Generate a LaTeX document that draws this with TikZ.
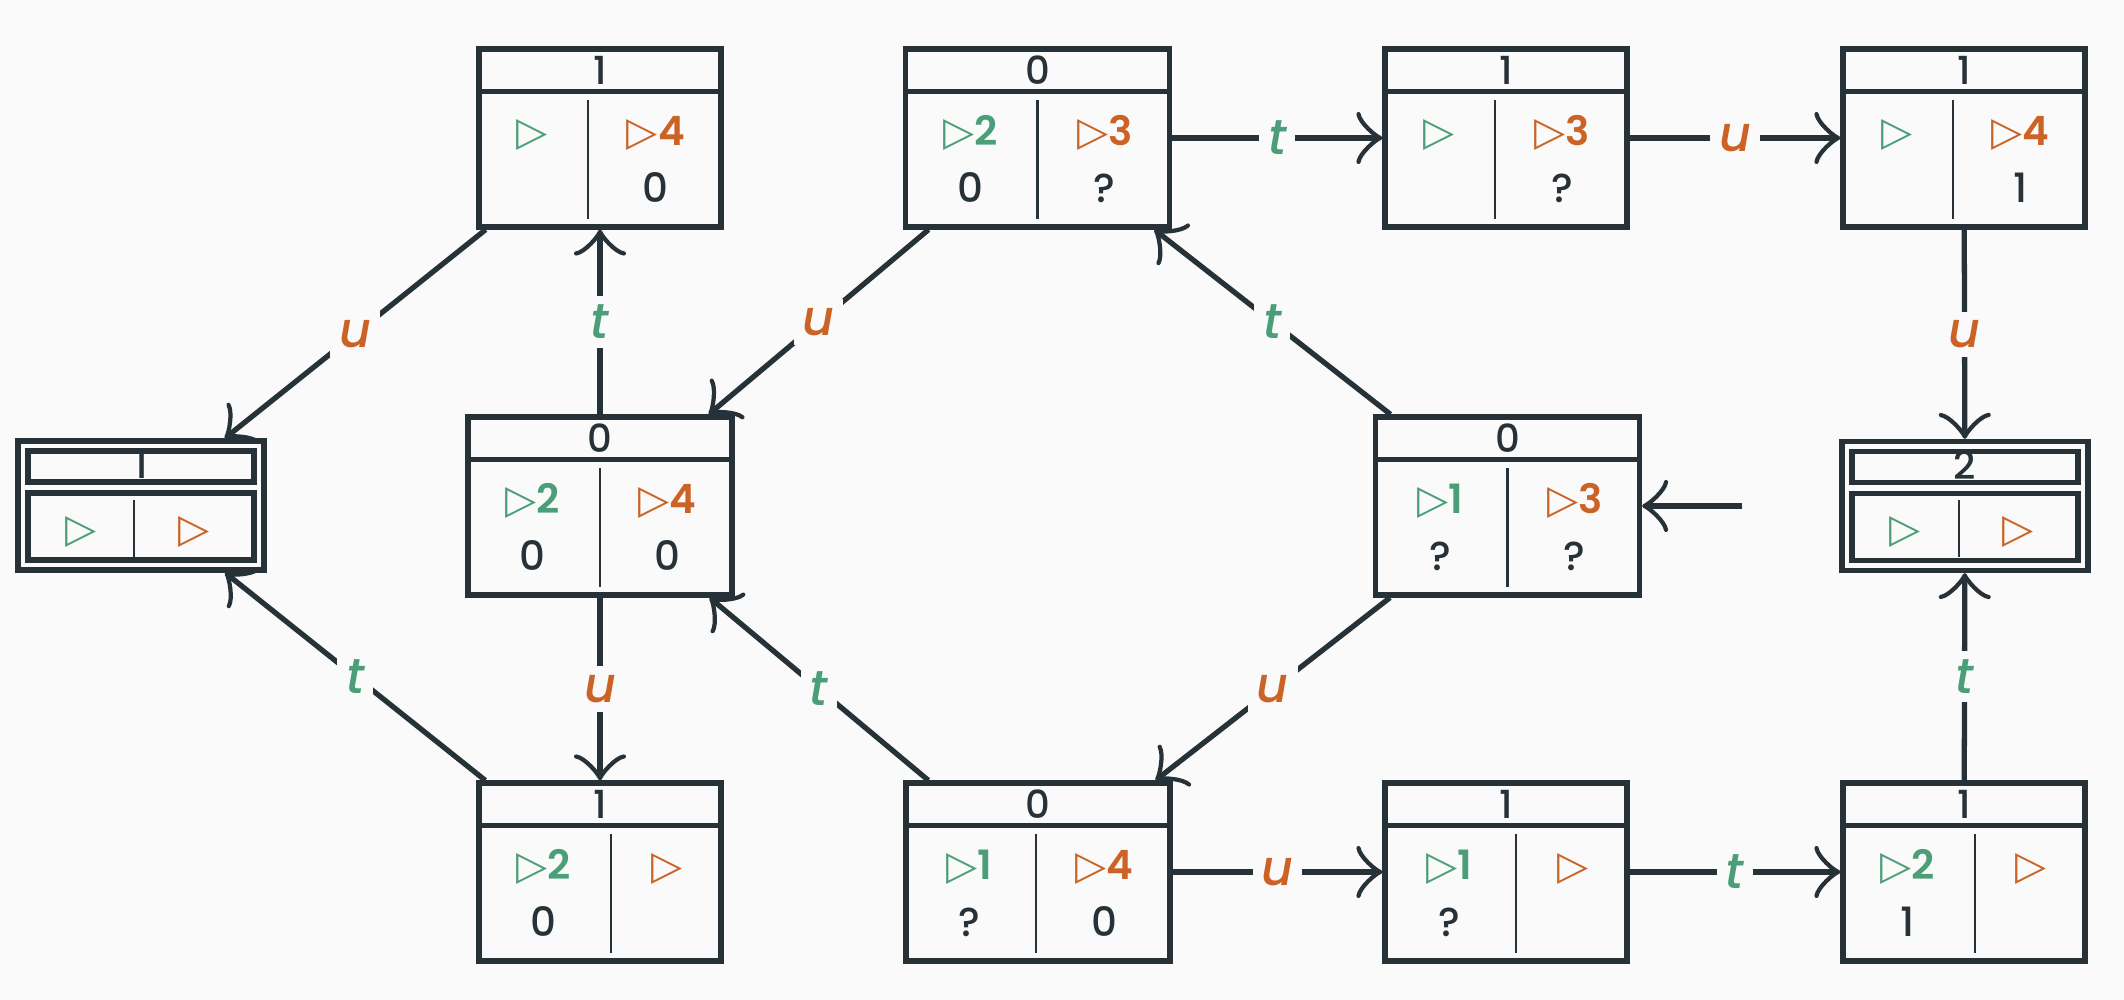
\documentclass[tikz,border=0pt]{standalone}
\usepackage{fontspec}
\setmainfont{Poppins}[UprightFont={* Medium}, BoldFont={* SemiBold}, ItalicFont={* Medium Italic}]
\newfontfamily\symfont{DejaVu Sans}
\usetikzlibrary{arrows.meta,calc}

\definecolor{bgc}{HTML}{FAFAFA}
\definecolor{ink}{HTML}{263238}
\definecolor{tgreen}{HTML}{4A9E78}
\definecolor{torange}{HTML}{CC6326}

\newcommand{\tri}{{\symfont\fontsize{11.5}{12}\selectfont ▷}}

\tikzset{
    state/.style={draw=ink, line width=1.5pt, minimum height=1.78cm, inner sep=0pt},
    small/.style={state, minimum width=2.42cm},
    wide/.style={state, minimum width=2.64cm},
    final/.style={state, minimum width=2.46cm, minimum height=1.29cm},
    txt/.style={anchor=base, inner sep=0pt, text=ink, font=\fontsize{11.5}{13}\selectfont},
    head/.style={txt, font=\fontsize{11}{12}\selectfont},
    edge/.style={draw=ink, line width=1.5pt, -{Classical TikZ Rightarrow[length=2.6mm, width=5.2mm, round]}},
    lbl/.style={fill=bgc, inner sep=2.5pt, font=\itshape\fontsize{14}{16}\selectfont},
    tlbl/.style={lbl, text=tgreen},
    ulbl/.style={lbl, text=torange},
}

\newcommand{\statebox}[9]{
    \node [#3] (#1) at (#2) {};
    \draw [ink, line width=1.5pt] ([yshift=-0.45cm]#1.north west) -- ([yshift=-0.45cm]#1.north east);
    \draw [ink, line width=0.8pt] ([xshift=#5, yshift=-0.54cm]#1.north) -- ([xshift=#5, yshift=0.11cm]#1.south);
    \coordinate (#1-l) at ($(#1.west)!0.5!([xshift=#5]#1.center)$);
    \coordinate (#1-r) at ($(#1.east)!0.5!([xshift=#5]#1.center)$);
    \node [head] (#1-h) at ([yshift=0.535cm]#1.center) {#4};
    \node [txt, text=tgreen] (#1-a) at ([yshift=-0.08cm]#1-l) {\tri\textbf{#6}};
    \node [txt, text=torange] (#1-b) at ([yshift=-0.08cm]#1-r) {\tri\textbf{#7}};
    \node [txt] (#1-c) at ([yshift=-0.65cm]#1-l) {#8};
    \node [txt] (#1-d) at ([yshift=-0.65cm]#1-r) {#9};
}

\newcommand{\finalbox}[4]{
    \node [final] (#1) at (#2) {};
    \draw [ink, line width=1.5pt] ([shift={(-1.13cm,0.545cm)}]#1.center) rectangle ([shift={(1.13cm,0.235cm)}]#1.center);
    \draw [ink, line width=1.5pt] ([shift={(-1.13cm,0.125cm)}]#1.center) rectangle ([shift={(1.13cm,-0.545cm)}]#1.center);
    \draw [ink, line width=0.8pt] ([shift={(#4,0.055cm)}]#1.center) -- ([shift={(#4,-0.515cm)}]#1.center);
    \coordinate (#1-l) at ($([xshift=-1.13cm]#1.center)!0.5!([xshift=#4]#1.center)$);
    \coordinate (#1-r) at ($([xshift=1.13cm]#1.center)!0.5!([xshift=#4]#1.center)$);
    \node [head] (#1-h) at ([yshift=0.265cm]#1.center) {#3};
    \node [txt, text=tgreen] (#1-a) at ([yshift=-0.37cm]#1-l) {\tri};
    \node [txt, text=torange] (#1-b) at ([yshift=-0.37cm]#1-r) {\tri};
}

\begin{document}
\begin{tikzpicture}
    \fill [bgc] (0,0) rectangle (21.24,-10);
    \useasboundingbox (0,0) rectangle (21.24,-10);

    \statebox{A}{6.00,-1.38}{small}{1}{-0.12cm}{}{4}{}{0}
    \statebox{B}{10.375,-1.38}{wide}{0}{0cm}{2}{3}{0}{?}
    \statebox{C}{15.06,-1.38}{small}{1}{-0.11cm}{}{3}{}{?}
    \statebox{D}{19.64,-1.38}{small}{1}{-0.11cm}{}{4}{}{1}
    \statebox{F}{6.00,-5.06}{wide}{0}{0cm}{2}{4}{0}{0}
    \statebox{G}{15.075,-5.06}{wide}{0}{0cm}{1}{3}{?}{?}
    \statebox{I}{6.00,-8.72}{small}{1}{0.11cm}{2}{}{0}{}
    \statebox{J}{10.38,-8.72}{wide}{0}{-0.02cm}{1}{4}{?}{0}
    \statebox{K}{15.06,-8.72}{small}{1}{0.10cm}{1}{}{?}{}
    \statebox{L}{19.64,-8.72}{small}{1}{0.11cm}{2}{}{1}{}
    \finalbox{E}{1.41,-5.055}{1}{-0.07cm}
    \finalbox{H}{19.65,-5.06}{2}{-0.06cm}

    \coordinate (init) at (17.42,-5.06);
    \draw [edge] (init) -- (G);

    \draw [edge] (A) -- node [ulbl] (lAE) {u} (E);
    \draw [edge] (F) -- node [tlbl] (lFA) {t} (A);
    \draw [edge] (F) -- node [ulbl] (lFI) {u} (I);
    \draw [edge] (I) -- node [tlbl] (lIE) {t} (E);
    \draw [edge] (B) -- node [ulbl] (lBF) {u} (F);
    \draw [edge] (J) -- node [tlbl] (lJF) {t} (F);
    \draw [edge] (G) -- node [tlbl] (lGB) {t} (B);
    \draw [edge] (G) -- node [ulbl] (lGJ) {u} (J);
    \draw [edge] (B) -- node [tlbl] (lBC) {t} (C);
    \draw [edge] (C) -- node [ulbl] (lCD) {u} (D);
    \draw [edge] (D) -- node [ulbl] (lDH) {u} (H);
    \draw [edge] (L) -- node [tlbl] (lLH) {t} (H);
    \draw [edge] (J) -- node [ulbl] (lJK) {u} (K);
    \draw [edge] (K) -- node [tlbl] (lKL) {t} (L);
\end{tikzpicture}
\end{document}
